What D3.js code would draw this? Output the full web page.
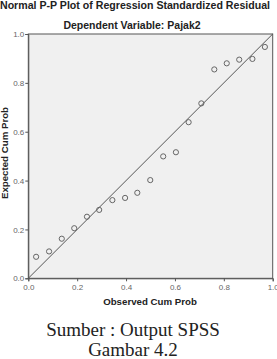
<!DOCTYPE html>
<html>
<head>
  <meta charset="utf-8">
  <script src="https://d3js.org/d3.v7.min.js"></script>
  <style>
    body { margin: 0; background: #fff; }
    text { font-family: "Liberation Sans", Arial, sans-serif; }
    .tick text { fill: #666; font-size: 8px; }
    .caption { font-family: "Liberation Serif", "Times New Roman", serif; fill: #222; }
  </style>
</head>
<body>
  <script>
    // observed / expected cumulative probabilities
    const observed = [0.032, 0.085, 0.137, 0.188, 0.240, 0.290, 0.344, 0.396, 0.446, 0.499,
                      0.552, 0.604, 0.656, 0.708, 0.761, 0.812, 0.863, 0.917, 0.968];
    const expected = [0.088, 0.110, 0.162, 0.205, 0.252, 0.280, 0.320, 0.329, 0.350, 0.402,
                      0.499, 0.516, 0.639, 0.716, 0.855, 0.880, 0.895, 0.898, 0.947];
    const tickValues = [0, 0.2, 0.4, 0.6, 0.8, 1.0];

    const width = 277, height = 359;
    const svg = d3.select("body").append("svg")
      .attr("width", width)
      .attr("height", height);

    const x = d3.scaleLinear().domain([0, 1]).range([28.3, 272.7]);
    const y = d3.scaleLinear().domain([0, 1]).range([278.3, 34]);

    // plot background
    svg.append("rect")
      .attr("x", x(0)).attr("y", y(1))
      .attr("width", x(1) - x(0)).attr("height", y(0) - y(1))
      .attr("fill", "#f0f0f0")
      .attr("stroke", "#555")
      .attr("stroke-width", 1);

    // axes
    const xAxis = svg.append("g")
      .attr("transform", `translate(0,${y(0)})`)
      .call(d3.axisBottom(x).tickValues(tickValues).tickFormat(d3.format(".1f")).tickSize(3).tickPadding(3));
    const yAxis = svg.append("g")
      .attr("transform", `translate(${x(0)},0)`)
      .call(d3.axisLeft(y).tickValues(tickValues).tickFormat(d3.format(".1f")).tickSize(3).tickPadding(1));
    [xAxis, yAxis].forEach(a => {
      a.select(".domain").attr("stroke", "#555");
      a.selectAll(".tick line").attr("stroke", "#555");
    });

    // reference diagonal
    svg.append("line")
      .attr("x1", x(0)).attr("y1", y(0))
      .attr("x2", x(1)).attr("y2", y(1))
      .attr("stroke", "#555")
      .attr("stroke-width", 1);

    // points
    svg.append("g").selectAll("circle")
      .data(observed)
      .join("circle")
      .attr("cx", d => x(d))
      .attr("cy", (d, i) => y(expected[i]))
      .attr("r", 2.6)
      .attr("fill", "none")
      .attr("stroke", "#666")
      .attr("stroke-width", 1);

    // titles
    svg.append("text")
      .attr("x", 0).attr("y", 9)
      .attr("font-size", 10.6).attr("font-weight", "bold").attr("fill", "#222")
      .text("Normal P-P Plot of Regression Standardized Residual");
    svg.append("text")
      .attr("x", 132).attr("y", 29)
      .attr("text-anchor", "middle")
      .attr("font-size", 10.5).attr("font-weight", "bold").attr("fill", "#222")
      .text("Dependent Variable: Pajak2");

    svg.append("text")
      .attr("x", 150).attr("y", 305)
      .attr("text-anchor", "middle")
      .attr("font-size", 9.7).attr("font-weight", "bold").attr("fill", "#222")
      .text("Observed Cum Prob");
    svg.append("text")
      .attr("transform", `translate(8,153) rotate(-90)`)
      .attr("text-anchor", "middle")
      .attr("font-size", 9.7).attr("font-weight", "bold").attr("fill", "#222")
      .text("Expected Cum Prob");

    // caption
    svg.append("text").attr("class", "caption")
      .attr("x", 133).attr("y", 336)
      .attr("text-anchor", "middle").attr("font-size", 19)
      .text("Sumber : Output SPSS");
    svg.append("text").attr("class", "caption")
      .attr("x", 133).attr("y", 356)
      .attr("text-anchor", "middle").attr("font-size", 19)
      .text("Gambar 4.2");
  </script>
</body>
</html>
